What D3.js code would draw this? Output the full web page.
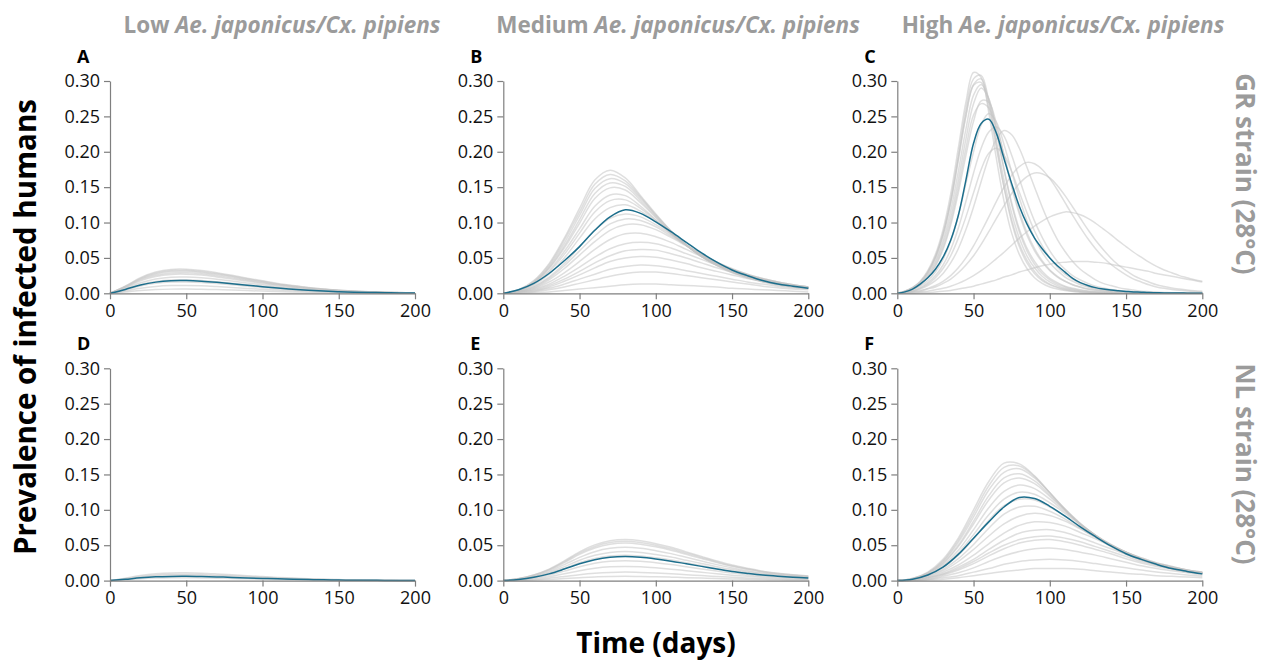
<!DOCTYPE html>
<html>
<head>
<meta charset="utf-8">
<script src="https://cdn.jsdelivr.net/npm/d3@7"></script>
<style>
  body { margin: 0; background: #ffffff; }
  svg { display: block; }
</style>
</head>
<body>
<svg id="chart" width="1263" height="661"></svg>
<script>
// ---------------- DATA ----------------
const days = [0,10,20,30,40,50,60,70,80,90,100,110,120,130,140,150,160,170,180,190,200];
const daysC = [0,5,10,15,20,25,30,35,40,45,50,55,60,65,70,75,80,85,90,95,100,105,110,115,120,125,130,135,140,145,150,155,160,165,170,175,180,185,190,195,200];
const xTicks = [0,50,100,150,200];
const yTicks = [0,0.05,0.10,0.15,0.20,0.25,0.30];
const panelLetters = ["A","B","C","D","E","F"];
const columnLevels = ["Low","Medium","High"];
const speciesText = "Ae. japonicus/Cx. pipiens";
const rowTitles = ["GR strain (28°C)","NL strain (28°C)"];
const yTitle = "Prevalence of infected humans";
const xTitle = "Time (days)";

// Panel A: Low, GR
const meanA = [0,0.0055,0.0117,0.0158,0.0178,0.018,0.0171,0.0155,0.0135,0.0113,0.0094,0.0074,0.0058,0.0043,0.0032,0.0023,0.0016,0.0012,0.0008,0.0005,0.0004];
const greyA = [
  [0,0.010,0.022,0.030,0.0337,0.034,0.0323,0.0292,0.0255,0.0214,0.0177,0.0139,0.0109,0.0082,0.0061,0.0044,0.0031,0.0022,0.0015,0.001,0.0007],
  [0,0.0098,0.0211,0.0286,0.0322,0.0325,0.0309,0.0279,0.0244,0.0205,0.0169,0.0133,0.0104,0.0078,0.0059,0.0042,0.0029,0.0021,0.0015,0.001,0.0007],
  [0,0.0093,0.020,0.0273,0.0307,0.031,0.0295,0.0267,0.0233,0.0195,0.0161,0.0127,0.0099,0.0074,0.0056,0.004,0.0028,0.002,0.0014,0.0009,0.0006],
  [0,0.0087,0.0189,0.0255,0.0287,0.029,0.0276,0.0249,0.0218,0.0183,0.0151,0.0119,0.0093,0.007,0.0052,0.0038,0.0026,0.0019,0.0013,0.0009,0.0006],
  [0,0.0081,0.0176,0.0238,0.0267,0.027,0.0257,0.0232,0.0203,0.017,0.014,0.0111,0.0086,0.0065,0.0049,0.0035,0.0024,0.0018,0.0012,0.0008,0.0005],
  [0,0.0069,0.015,0.0202,0.0228,0.023,0.0219,0.0198,0.0173,0.0145,0.012,0.0094,0.0074,0.0055,0.0041,0.003,0.0021,0.0015,0.001,0.0007,0.0005],
  [0,0.0057,0.0124,0.0167,0.0188,0.019,0.0181,0.0163,0.0143,0.012,0.0099,0.0078,0.0061,0.0046,0.0034,0.0025,0.0017,0.0012,0.0009,0.0006,0.0004],
  [0,0.0048,0.0104,0.0141,0.0158,0.016,0.0152,0.0138,0.012,0.0101,0.0083,0.0066,0.0051,0.0038,0.0029,0.0021,0.0014,0.001,0.0007,0.0005,0.0003],
  [0,0.0033,0.0072,0.0097,0.0109,0.011,0.0105,0.0095,0.0083,0.0069,0.0057,0.0045,0.0035,0.0026,0.002,0.0014,0.001,0.0007,0.0005,0.0003,0.0002],
  [0,0.0018,0.0039,0.0053,0.0059,0.006,0.0057,0.0052,0.0045,0.0038,0.0031,0.0025,0.0019,0.0014,0.0011,0.0008,0.0005,0.0004,0.0003,0.0002,0.0001]
];

// Panel B: Medium, GR
const meanB = [0,0.005,0.014,0.028,0.046,0.066,0.089,0.108,0.118,0.113,0.101,0.087,0.072,0.057,0.044,0.033,0.025,0.018,0.013,0.010,0.007];
const greyB = [
  [0,0.005,0.018,0.042,0.078,0.120,0.160,0.174,0.163,0.138,0.112,0.088,0.068,0.052,0.039,0.029,0.022,0.016,0.012,0.009,0.007],
  [0,0.005,0.017,0.040,0.075,0.115,0.154,0.168,0.159,0.136,0.111,0.088,0.068,0.052,0.040,0.030,0.022,0.017,0.012,0.009,0.007],
  [0,0.004,0.016,0.038,0.071,0.110,0.148,0.162,0.155,0.134,0.110,0.087,0.068,0.052,0.040,0.030,0.023,0.017,0.013,0.010,0.007],
  [0,0.004,0.015,0.036,0.067,0.104,0.141,0.156,0.151,0.131,0.108,0.086,0.068,0.052,0.040,0.031,0.023,0.017,0.013,0.010,0.008],
  [0,0.004,0.015,0.035,0.064,0.099,0.134,0.149,0.146,0.128,0.107,0.086,0.068,0.053,0.041,0.031,0.024,0.018,0.013,0.010,0.008],
  [0,0.004,0.014,0.032,0.059,0.091,0.123,0.139,0.138,0.123,0.104,0.085,0.068,0.053,0.041,0.032,0.024,0.018,0.014,0.010,0.008],
  [0,0.004,0.013,0.030,0.055,0.085,0.115,0.131,0.132,0.120,0.103,0.085,0.068,0.054,0.042,0.032,0.024,0.018,0.014,0.010,0.008],
  [0,0.004,0.012,0.027,0.050,0.078,0.105,0.121,0.125,0.116,0.101,0.084,0.068,0.054,0.042,0.033,0.025,0.019,0.014,0.011,0.008],
  [0,0.003,0.010,0.023,0.042,0.066,0.089,0.106,0.112,0.108,0.097,0.083,0.068,0.055,0.043,0.034,0.026,0.020,0.015,0.011,0.008],
  [0,0.003,0.009,0.021,0.039,0.060,0.081,0.098,0.105,0.103,0.094,0.081,0.068,0.055,0.044,0.034,0.026,0.020,0.015,0.011,0.008],
  [0,0.003,0.008,0.019,0.035,0.054,0.073,0.089,0.097,0.097,0.090,0.079,0.067,0.055,0.044,0.035,0.027,0.021,0.016,0.012,0.009],
  [0,0.002,0.007,0.016,0.029,0.045,0.062,0.076,0.084,0.085,0.080,0.072,0.062,0.052,0.043,0.034,0.027,0.021,0.016,0.012,0.009],
  [0,0.002,0.006,0.013,0.024,0.037,0.051,0.063,0.070,0.072,0.070,0.064,0.056,0.048,0.040,0.033,0.026,0.020,0.016,0.012,0.009],
  [0,0.002,0.005,0.011,0.020,0.031,0.043,0.053,0.060,0.062,0.061,0.056,0.050,0.043,0.036,0.030,0.024,0.019,0.015,0.011,0.009],
  [0,0.002,0.004,0.009,0.017,0.026,0.036,0.045,0.050,0.052,0.051,0.047,0.042,0.036,0.031,0.026,0.021,0.017,0.013,0.010,0.008],
  [0,0.001,0.003,0.007,0.013,0.020,0.027,0.034,0.038,0.040,0.039,0.036,0.032,0.028,0.024,0.020,0.016,0.013,0.010,0.008,0.006],
  [0,0.001,0.002,0.005,0.009,0.014,0.019,0.024,0.028,0.030,0.030,0.028,0.025,0.022,0.019,0.016,0.013,0.010,0.008,0.006,0.005],
  [0,0,0.001,0.002,0.004,0.006,0.008,0.010,0.012,0.013,0.013,0.012,0.011,0.010,0.009,0.007,0.006,0.005,0.004,0.003,0.002]
];

// Panel C: High, GR (5-day sampling)
const meanC = [0,0.002,0.006,0.013,0.022,0.034,0.051,0.075,0.110,0.160,0.212,0.240,0.246,0.226,0.190,0.155,0.123,0.098,0.078,0.063,0.050,0.039,0.030,0.021,0.015,0.011,0.008,0.006,0.0045,0.0035,0.0027,0.002,0.0015,0.001,0.0008,0.0005,0.0004,0.0003,0.0002,0.0001,0.0001];
const greyC = [
  [0,0.003,0.008,0.017,0.032,0.055,0.090,0.140,0.205,0.270,0.312,0.305,0.255,0.190,0.130,0.085,0.055,0.035,0.022,0.014,0.009,0.006,0.004,0.0025,0.0016,0.001,0.0007,0.0005,0.0003,0.0002,0.0001,0,0,0,0,0,0,0,0,0,0],
  [0,0.003,0.008,0.016,0.030,0.052,0.085,0.132,0.195,0.260,0.303,0.308,0.272,0.215,0.160,0.113,0.078,0.053,0.036,0.024,0.016,0.011,0.007,0.005,0.003,0.002,0.0014,0.0009,0.0006,0.0004,0.0003,0.0002,0.0001,0,0,0,0,0,0,0,0],
  [0,0.003,0.008,0.016,0.030,0.051,0.083,0.129,0.190,0.252,0.294,0.298,0.262,0.205,0.150,0.104,0.070,0.047,0.031,0.020,0.013,0.009,0.006,0.004,0.0025,0.0016,0.001,0.0007,0.0005,0.0003,0.0002,0.0001,0,0,0,0,0,0,0,0,0],
  [0,0.003,0.007,0.015,0.029,0.050,0.082,0.128,0.188,0.250,0.295,0.303,0.270,0.210,0.150,0.100,0.066,0.043,0.028,0.018,0.012,0.008,0.005,0.003,0.002,0.0013,0.0008,0.0005,0.0003,0.0002,0.0001,0,0,0,0,0,0,0,0,0,0],
  [0,0.002,0.007,0.014,0.027,0.046,0.075,0.117,0.172,0.232,0.280,0.295,0.275,0.228,0.175,0.128,0.091,0.064,0.045,0.031,0.021,0.015,0.010,0.007,0.005,0.0033,0.0022,0.0015,0.001,0.0007,0.0005,0.0003,0.0002,0.0001,0,0,0,0,0,0,0],
  [0,0.002,0.006,0.013,0.025,0.043,0.070,0.108,0.160,0.218,0.268,0.290,0.275,0.230,0.175,0.125,0.087,0.060,0.041,0.028,0.019,0.013,0.009,0.006,0.004,0.003,0.002,0.0013,0.0009,0.0006,0.0004,0.0003,0.0002,0.0001,0,0,0,0,0,0,0],
  [0,0.002,0.006,0.012,0.022,0.038,0.062,0.096,0.142,0.195,0.243,0.272,0.270,0.240,0.195,0.150,0.112,0.082,0.060,0.044,0.032,0.023,0.017,0.012,0.009,0.006,0.0045,0.003,0.0022,0.0016,0.0011,0.0008,0.0006,0.0004,0.0003,0.0002,0.0001,0,0,0,0],
  [0,0.002,0.006,0.012,0.023,0.040,0.065,0.101,0.150,0.205,0.252,0.268,0.262,0.235,0.195,0.153,0.116,0.086,0.063,0.046,0.033,0.024,0.017,0.012,0.0085,0.006,0.0042,0.003,0.002,0.0014,0.001,0.0007,0.0005,0.0003,0.0002,0.0001,0,0,0,0,0],
  [0,0.002,0.005,0.010,0.018,0.030,0.048,0.074,0.110,0.155,0.200,0.238,0.254,0.242,0.210,0.172,0.135,0.103,0.078,0.058,0.043,0.032,0.023,0.017,0.012,0.009,0.006,0.0045,0.003,0.002,0.0015,0.001,0.0007,0.0005,0.0003,0.0002,0.0001,0,0,0,0],
  [0,0.002,0.004,0.008,0.015,0.025,0.040,0.062,0.092,0.130,0.170,0.205,0.228,0.235,0.222,0.195,0.162,0.130,0.102,0.079,0.060,0.045,0.034,0.025,0.019,0.014,0.010,0.0075,0.0055,0.004,0.003,0.0022,0.0016,0.0012,0.0009,0.0006,0.0004,0.0003,0.0002,0.0001,0],
  [0,0.001,0.003,0.007,0.013,0.022,0.035,0.053,0.078,0.108,0.142,0.175,0.198,0.205,0.195,0.172,0.143,0.114,0.088,0.067,0.050,0.037,0.027,0.020,0.014,0.010,0.007,0.005,0.0036,0.0025,0.0018,0.0012,0.0009,0.0006,0.0004,0.0003,0.0002,0.0001,0,0,0],
  [0,0.001,0.003,0.006,0.011,0.018,0.028,0.043,0.063,0.090,0.122,0.158,0.192,0.218,0.230,0.224,0.205,0.178,0.150,0.122,0.097,0.076,0.059,0.045,0.034,0.026,0.019,0.014,0.011,0.008,0.006,0.0045,0.003,0.0023,0.0017,0.0012,0.0009,0.0006,0.0004,0.0003,0.0002],
  [0,0.001,0.002,0.004,0.007,0.011,0.017,0.025,0.036,0.050,0.067,0.087,0.108,0.130,0.150,0.167,0.179,0.185,0.183,0.175,0.162,0.146,0.128,0.110,0.093,0.077,0.063,0.051,0.041,0.033,0.026,0.020,0.016,0.012,0.009,0.007,0.0055,0.0042,0.0032,0.0024,0.0018],
  [0,0.001,0.002,0.003,0.006,0.009,0.014,0.020,0.029,0.040,0.053,0.069,0.087,0.106,0.124,0.141,0.155,0.165,0.170,0.169,0.163,0.152,0.138,0.122,0.106,0.090,0.075,0.062,0.050,0.040,0.032,0.025,0.020,0.016,0.012,0.0095,0.0075,0.006,0.0047,0.0037,0.003],
  [0,0.0005,0.001,0.002,0.003,0.005,0.007,0.010,0.014,0.019,0.025,0.032,0.040,0.049,0.058,0.068,0.078,0.087,0.095,0.102,0.108,0.112,0.115,0.114,0.111,0.106,0.099,0.091,0.083,0.074,0.066,0.058,0.051,0.044,0.038,0.033,0.029,0.025,0.022,0.019,0.017],
  [0,0,0,0.001,0.001,0.002,0.003,0.004,0.006,0.008,0.010,0.013,0.016,0.019,0.023,0.026,0.030,0.033,0.036,0.039,0.041,0.043,0.044,0.045,0.045,0.045,0.044,0.043,0.041,0.039,0.037,0.035,0.033,0.031,0.028,0.026,0.024,0.022,0.020,0.018,0.016]
];

// Panel D: Low, NL
const meanD = [0,0.0018,0.0039,0.0053,0.0059,0.006,0.0057,0.0052,0.0045,0.0038,0.0031,0.0025,0.0019,0.0014,0.0011,0.0008,0.0005,0.0004,0.0003,0.0002,0.0001];
const greyD = [
  [0,0.0033,0.0072,0.0097,0.0109,0.011,0.0105,0.0095,0.0083,0.0069,0.0057,0.0045,0.0035,0.0026,0.002,0.0014,0.001,0.0007,0.0005,0.0003,0.0002],
  [0,0.0027,0.0059,0.0079,0.0089,0.009,0.0086,0.0077,0.0068,0.0057,0.0047,0.0037,0.0029,0.0022,0.0016,0.0012,0.0008,0.0006,0.0004,0.0003,0.0002],
  [0,0.0023,0.0049,0.0066,0.0074,0.0075,0.0071,0.0065,0.0056,0.0047,0.0039,0.0031,0.0024,0.0018,0.0014,0.001,0.0007,0.0005,0.0003,0.0002,0.0002],
  [0,0.0012,0.0026,0.0035,0.004,0.004,0.0038,0.0034,0.003,0.0025,0.0021,0.0016,0.0013,0.001,0.0007,0.0005,0.0004,0.0003,0.0002,0.0001,0.0001]
];

// Panel E: Medium, NL
const meanE = [0,0.0017,0.0048,0.0095,0.0163,0.0238,0.0296,0.033,0.034,0.033,0.0306,0.0275,0.0238,0.0201,0.0163,0.0129,0.0102,0.0078,0.0061,0.0048,0.0037];
const greyE = [
  [0,0.0029,0.0081,0.0162,0.0278,0.0406,0.0505,0.0563,0.058,0.0563,0.0522,0.047,0.0406,0.0342,0.0278,0.022,0.0174,0.0133,0.0104,0.0081,0.0064],
  [0,0.0028,0.0078,0.0155,0.0266,0.0389,0.0483,0.0538,0.0555,0.0538,0.0499,0.0449,0.0389,0.0327,0.0266,0.021,0.0166,0.0127,0.0099,0.0078,0.0061],
  [0,0.0027,0.0074,0.0148,0.0254,0.0371,0.0461,0.0514,0.053,0.0514,0.0477,0.0429,0.0371,0.0313,0.0254,0.0201,0.0159,0.0122,0.0095,0.0074,0.0058],
  [0,0.0024,0.0066,0.0132,0.0226,0.0329,0.0409,0.0456,0.047,0.0456,0.0423,0.0381,0.0329,0.0277,0.0226,0.0179,0.0141,0.0108,0.0085,0.0066,0.0052],
  [0,0.0021,0.0057,0.0115,0.0197,0.0287,0.0357,0.0398,0.041,0.0398,0.0369,0.0332,0.0287,0.0242,0.0197,0.0156,0.0123,0.0094,0.0074,0.0057,0.0045],
  [0,0.0018,0.005,0.01,0.0172,0.0252,0.0313,0.0348,0.0359,0.0348,0.0323,0.0291,0.0252,0.0212,0.0172,0.0136,0.0108,0.0082,0.0065,0.005,0.0039],
  [0,0.0014,0.0039,0.0078,0.0134,0.0196,0.0244,0.0272,0.028,0.0272,0.0252,0.0227,0.0196,0.0165,0.0134,0.0106,0.0084,0.0064,0.005,0.0039,0.0031],
  [0,0.001,0.0028,0.0056,0.0096,0.014,0.0174,0.0194,0.02,0.0194,0.018,0.0162,0.014,0.0118,0.0096,0.0076,0.006,0.0046,0.0036,0.0028,0.0022],
  [0,0.0006,0.0017,0.0034,0.0058,0.0084,0.0104,0.0116,0.012,0.0116,0.0108,0.0097,0.0084,0.0071,0.0058,0.0046,0.0036,0.0028,0.0022,0.0017,0.0013],
  [0,0.0003,0.0008,0.0017,0.0029,0.0042,0.0052,0.0058,0.006,0.0058,0.0054,0.0049,0.0042,0.0035,0.0029,0.0023,0.0018,0.0014,0.0011,0.0008,0.0007]
];

// Panel F: High, NL
const meanF = [0,0.002,0.008,0.019,0.037,0.060,0.083,0.104,0.1175,0.116,0.105,0.091,0.076,0.062,0.049,0.038,0.030,0.023,0.017,0.013,0.0095];
const greyF = [
  [0,0.003,0.012,0.030,0.060,0.100,0.140,0.166,0.165,0.148,0.124,0.100,0.079,0.062,0.048,0.037,0.029,0.022,0.017,0.013,0.010],
  [0,0.003,0.011,0.028,0.057,0.095,0.134,0.160,0.162,0.147,0.124,0.101,0.080,0.063,0.049,0.038,0.029,0.023,0.017,0.013,0.010],
  [0,0.003,0.011,0.027,0.054,0.090,0.128,0.153,0.158,0.145,0.124,0.101,0.081,0.064,0.050,0.039,0.030,0.023,0.018,0.014,0.010],
  [0,0.002,0.010,0.025,0.050,0.084,0.120,0.145,0.151,0.141,0.121,0.100,0.080,0.064,0.050,0.039,0.030,0.023,0.018,0.014,0.010],
  [0,0.002,0.010,0.024,0.048,0.080,0.114,0.138,0.145,0.137,0.119,0.099,0.080,0.064,0.050,0.039,0.030,0.023,0.018,0.014,0.010],
  [0,0.002,0.009,0.022,0.043,0.072,0.103,0.126,0.135,0.130,0.115,0.097,0.080,0.064,0.051,0.040,0.031,0.024,0.018,0.014,0.011],
  [0,0.002,0.008,0.020,0.039,0.065,0.093,0.115,0.125,0.122,0.110,0.095,0.079,0.064,0.051,0.040,0.031,0.024,0.019,0.014,0.011],
  [0,0.002,0.008,0.019,0.036,0.059,0.085,0.106,0.115,0.114,0.104,0.091,0.076,0.062,0.050,0.040,0.031,0.024,0.019,0.014,0.011],
  [0,0.002,0.007,0.016,0.031,0.051,0.074,0.094,0.104,0.105,0.098,0.087,0.074,0.061,0.050,0.040,0.031,0.024,0.019,0.015,0.011],
  [0,0.001,0.006,0.014,0.027,0.044,0.063,0.080,0.091,0.095,0.092,0.084,0.073,0.061,0.050,0.040,0.032,0.025,0.020,0.015,0.012],
  [0,0.001,0.005,0.012,0.022,0.036,0.052,0.067,0.078,0.083,0.082,0.077,0.068,0.059,0.049,0.040,0.032,0.025,0.020,0.015,0.012],
  [0,0.001,0.004,0.010,0.019,0.030,0.044,0.057,0.067,0.071,0.072,0.068,0.061,0.053,0.045,0.037,0.030,0.024,0.019,0.015,0.011],
  [0,0.001,0.004,0.009,0.017,0.027,0.039,0.050,0.058,0.062,0.063,0.060,0.055,0.048,0.041,0.034,0.027,0.022,0.017,0.013,0.010],
  [0,0.001,0.003,0.008,0.015,0.024,0.035,0.045,0.053,0.057,0.058,0.055,0.050,0.044,0.038,0.031,0.025,0.020,0.016,0.012,0.010],
  [0,0.001,0.002,0.006,0.011,0.018,0.027,0.035,0.041,0.045,0.046,0.044,0.040,0.036,0.031,0.026,0.021,0.017,0.014,0.011,0.008],
  [0,0.0005,0.0015,0.004,0.007,0.012,0.017,0.023,0.027,0.029,0.030,0.029,0.027,0.024,0.021,0.018,0.015,0.012,0.010,0.008,0.006],
  [0,0.0003,0.001,0.002,0.004,0.007,0.010,0.013,0.015,0.017,0.017,0.017,0.016,0.014,0.012,0.010,0.009,0.007,0.006,0.005,0.004]
];

// ---------------- LAYOUT ----------------
const colLeft = [110, 503.3, 897.3];
const rowTop = [81, 368.3];
const panelW = 305, panelH = 212.3;
const titleCenters = [282, 678, 1063];
const titleBaseline = 33;
const tickFont = "'Open Sans', 'DejaVu Sans', sans-serif";
const boldFont = "'Open Sans', 'DejaVu Sans', sans-serif";
const axisColor = "#7f7f7f";
const greyColor = "#c4c4c4";
const meanColor = "#1c6e8c";

const panels = [
  { letter: panelLetters[0], col: 0, row: 0, t: days,  mean: meanA, greys: greyA },
  { letter: panelLetters[1], col: 1, row: 0, t: days,  mean: meanB, greys: greyB },
  { letter: panelLetters[2], col: 2, row: 0, t: daysC, mean: meanC, greys: greyC },
  { letter: panelLetters[3], col: 0, row: 1, t: days,  mean: meanD, greys: greyD },
  { letter: panelLetters[4], col: 1, row: 1, t: days,  mean: meanE, greys: greyE },
  { letter: panelLetters[5], col: 2, row: 1, t: days,  mean: meanF, greys: greyF }
];

const svg = d3.select("#chart");

const x = d3.scaleLinear().domain([0, 200]).range([0, panelW]);
const y = d3.scaleLinear().domain([0, 0.30]).range([panelH, 0]);

panels.forEach(p => {
  const g = svg.append("g")
    .attr("transform", `translate(${colLeft[p.col]},${rowTop[p.row]})`);

  const line = d3.line()
    .x((d, i) => x(p.t[i]))
    .y(d => y(Math.max(0, d)))
    .curve(d3.curveCatmullRom.alpha(0.5));

  g.append("g").selectAll("path")
    .data(p.greys)
    .join("path")
    .attr("d", line)
    .attr("fill", "none")
    .attr("stroke", greyColor)
    .attr("stroke-opacity", 0.55)
    .attr("stroke-width", 1.5);

  g.append("path")
    .datum(p.mean)
    .attr("d", line)
    .attr("fill", "none")
    .attr("stroke", meanColor)
    .attr("stroke-width", 1.5);

  const yAxis = g.append("g")
    .call(d3.axisLeft(y).tickValues(yTicks).tickFormat(d3.format(".2f"))
      .tickSize(6).tickSizeOuter(0).tickPadding(4));
  const xAxis = g.append("g")
    .attr("transform", `translate(0,${panelH})`)
    .call(d3.axisBottom(x).tickValues(xTicks)
      .tickSize(6).tickSizeOuter(0).tickPadding(5));

  [yAxis, xAxis].forEach(a => {
    a.select(".domain").attr("stroke", axisColor).attr("stroke-width", 1.2);
    a.selectAll(".tick line").attr("stroke", axisColor).attr("stroke-width", 1.2);
    a.selectAll(".tick text")
      .attr("fill", "#111")
      .style("font-family", tickFont)
      .style("font-size", "18px");
  });

  g.append("text")
    .attr("x", -33)
    .attr("y", -18)
    .text(p.letter)
    .style("font-family", boldFont)
    .style("font-weight", "bold")
    .style("font-size", "18px")
    .attr("fill", "#000");
});

// Column titles
columnLevels.forEach((lvl, i) => {
  const t = svg.append("text")
    .attr("x", titleCenters[i])
    .attr("y", titleBaseline)
    .attr("text-anchor", "middle")
    .style("font-family", boldFont)
    .style("font-weight", "bold")
    .style("font-size", "22.5px")
    .attr("fill", "#9b9b9b");
  t.append("tspan").text(lvl + " ");
  t.append("tspan").style("font-style", "italic").text(speciesText);
});

// Row titles (right side)
const rowCenters = [174, 464];
rowTitles.forEach((r, i) => {
  svg.append("text")
    .attr("transform", `translate(1236,${rowCenters[i]}) rotate(90)`)
    .attr("text-anchor", "middle")
    .style("font-family", boldFont)
    .style("font-weight", "bold")
    .style("font-size", "26px")
    .attr("fill", "#9b9b9b")
    .text(r);
});

// Y title
svg.append("text")
  .attr("transform", "translate(36,327) rotate(-90)")
  .attr("text-anchor", "middle")
  .style("font-family", boldFont)
  .style("font-weight", "bold")
  .style("font-size", "29.5px")
  .attr("fill", "#000")
  .text(yTitle);

// X title
svg.append("text")
  .attr("x", 656)
  .attr("y", 653)
  .attr("text-anchor", "middle")
  .style("font-family", boldFont)
  .style("font-weight", "bold")
  .style("font-size", "28px")
  .attr("fill", "#000")
  .text(xTitle);
</script>
</body>
</html>
